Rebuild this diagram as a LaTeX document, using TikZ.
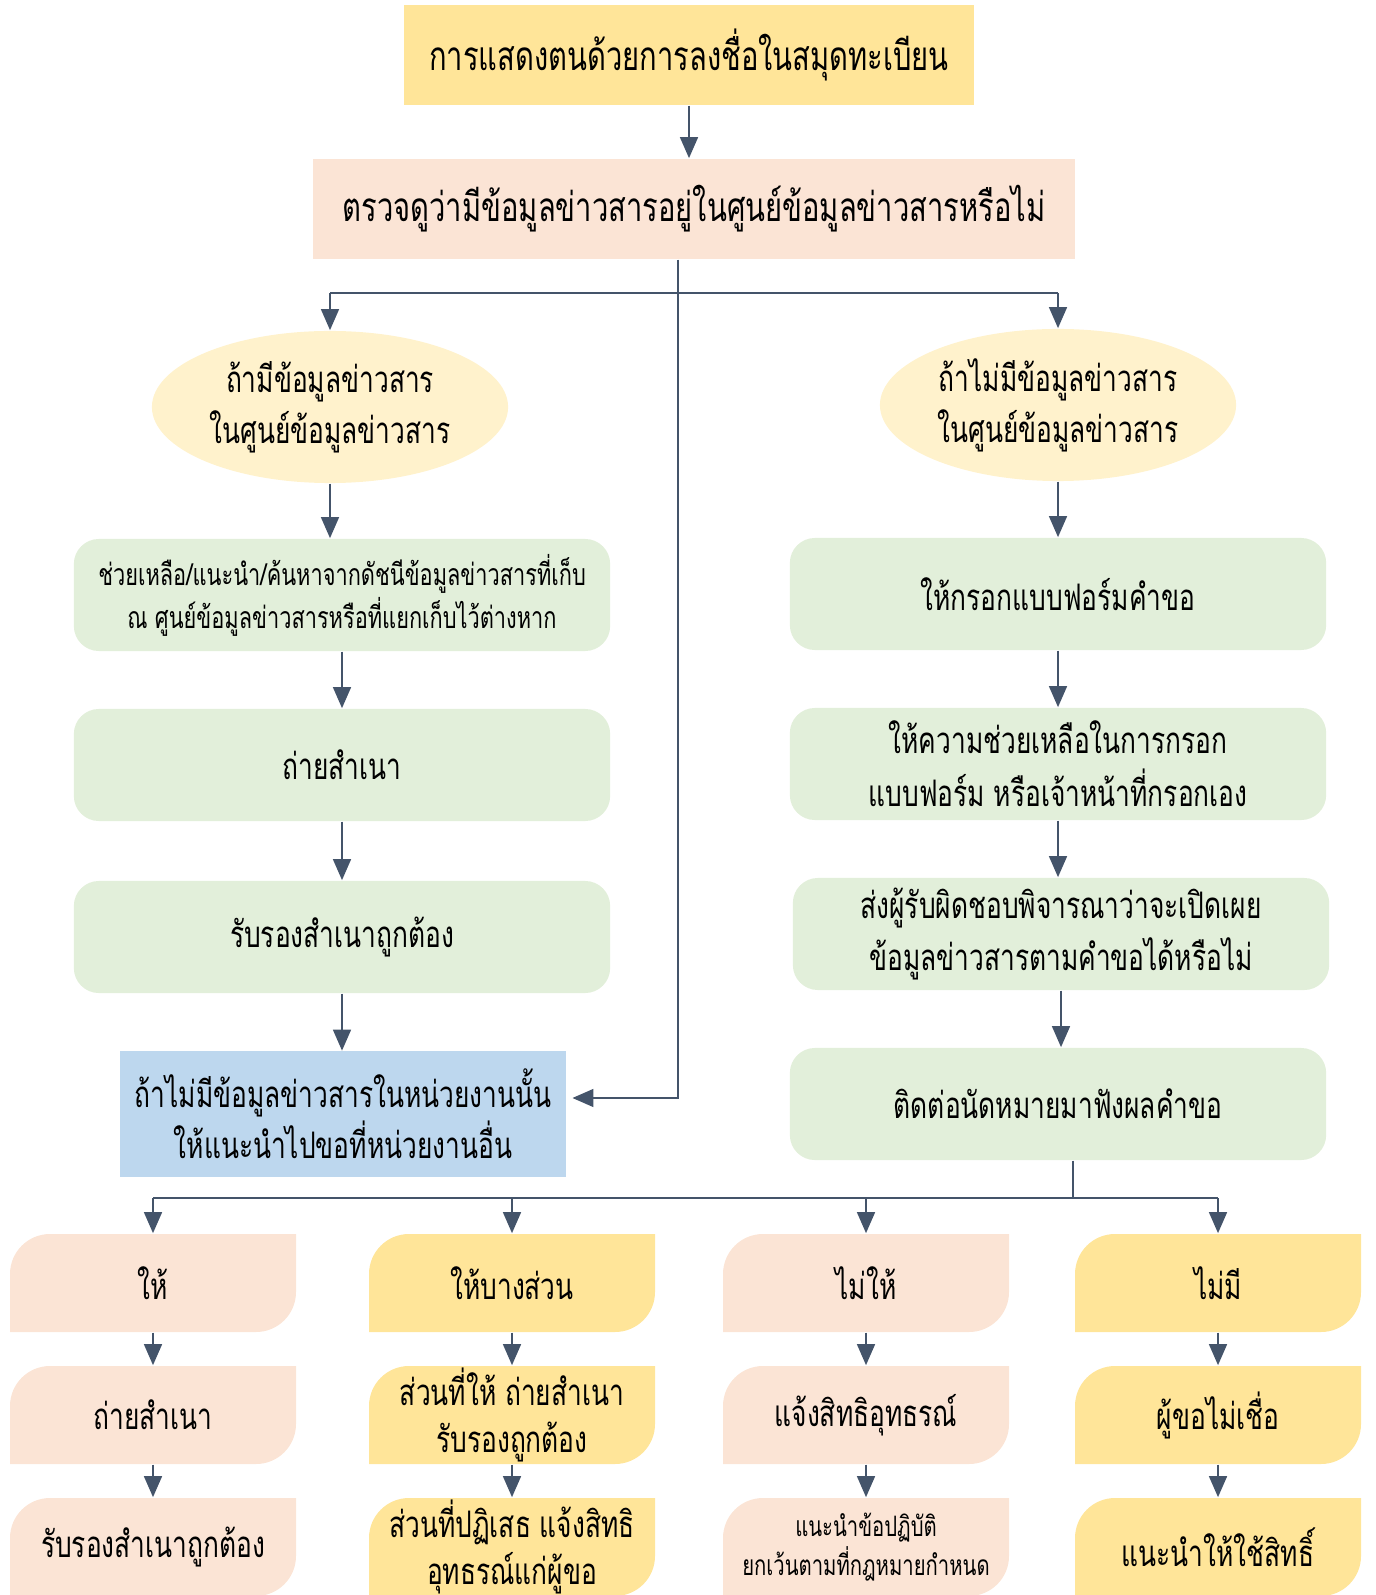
\documentclass[tikz,border=0pt]{standalone}
\usepackage{fontspec}
\newfontfamily\thaifont[Script=Thai,FakeStretch=0.72]{Loma}
\usetikzlibrary{arrows.meta}
\usetikzlibrary{shapes.geometric}
\definecolor{titleyellow}{HTML}{FFE599}
\definecolor{checkpeach}{HTML}{FBE4D5}
\definecolor{ovalyellow}{HTML}{FFF2CC}
\definecolor{stepgreen}{HTML}{E2EFDA}
\definecolor{otherblue}{HTML}{BDD7EE}
\definecolor{linkslate}{HTML}{44546A}
\tikzset{every node/.style={font=\thaifont\fontsize{10.4}{14.5}\selectfont,align=center,inner sep=0pt}}
\tikzset{bigtext/.style={font=\thaifont\fontsize{11.5}{14.5}\selectfont}}
\tikzset{linkline/.style={draw=linkslate,line width=0.8pt}}
\tikzset{link/.style={linkline,-{Triangle[length=6pt,width=5pt]}}}
\tikzset{oval/.style={ellipse,fill=ovalyellow,minimum width=3.56cm,minimum height=1.52cm}}
\tikzset{stepbox/.style={fill=stepgreen,rounded corners=0.25cm,minimum width=5.36cm,minimum height=1.12cm}}
\tikzset{leaf/.style={minimum width=2.85cm,minimum height=0.98cm,font=\thaifont\fontsize{10.4}{13.6}\selectfont}}
\newcommand{\leafbox}[6][]{%
  \fill[#5] ({#3-143},{#4+49}) -- ({#3-143},{#4-9}) arc[start angle=180,end angle=270,radius=40]
    -- ({#3+143},{#4-49}) -- ({#3+143},{#4+9}) arc[start angle=0,end angle=90,radius=40] -- cycle;
  \node[leaf,#1] (#2) at (#3,#4) {#6};}

\begin{document}
\begin{tikzpicture}[x=0.01cm,y=-0.01cm]
\useasboundingbox (0,0) rectangle (1375,1595);

\node[bigtext,fill=titleyellow,minimum width=5.70cm,minimum height=1.00cm] (title) at (689,55) {การแสดงตนด้วยการลงชื่อในสมุดทะเบียน};
\node[bigtext,fill=checkpeach,minimum width=7.61cm,minimum height=1.00cm] (check) at (694,209) {ตรวจดูว่ามีข้อมูลข่าวสารอยู่ในศูนย์ข้อมูลข่าวสารหรือไม่};

\node[oval] (ifyes) at (330,407) {ถ้ามีข้อมูลข่าวสาร\\ในศูนย์ข้อมูลข่าวสาร};
\node[oval] (ifno) at (1058,405) {ถ้าไม่มีข้อมูลข่าวสาร\\ในศูนย์ข้อมูลข่าวสาร};

\node[stepbox,font=\thaifont\fontsize{8.6}{12.2}\selectfont] (helpfind) at (342,595) {ช่วยเหลือ/แนะนำ/ค้นหาจากดัชนีข้อมูลข่าวสารที่เก็บ\\ณ ศูนย์ข้อมูลข่าวสารหรือที่แยกเก็บไว้ต่างหาก};
\node[stepbox] (copyA) at (342,765) {ถ่ายสำเนา};
\node[stepbox] (certA) at (342,937) {รับรองสำเนาถูกต้อง};
\node[fill=otherblue,minimum width=4.45cm,minimum height=1.25cm] (other) at (343,1114) {ถ้าไม่มีข้อมูลข่าวสารในหน่วยงานนั้น\\ให้แนะนำไปขอที่หน่วยงานอื่น};

\node[stepbox] (form) at (1058,594) {ให้กรอกแบบฟอร์มคำขอ};
\node[stepbox,font=\thaifont\fontsize{10.4}{15}\selectfont] (assist) at (1058,764) {ให้ความช่วยเหลือในการกรอก\\แบบฟอร์ม หรือเจ้าหน้าที่กรอกเอง};
\node[stepbox,font=\thaifont\fontsize{10.4}{15}\selectfont] (decide) at (1061,934) {ส่งผู้รับผิดชอบพิจารณาว่าจะเปิดเผย\\ข้อมูลข่าวสารตามคำขอได้หรือไม่};
\node[stepbox] (notify) at (1058,1104) {ติดต่อนัดหมายมาฟังผลคำขอ};

\leafbox{give}{153}{1283}{checkpeach}{ให้}
\leafbox{giveCopy}{153}{1415}{checkpeach}{ถ่ายสำเนา}
\leafbox{giveCert}{153}{1547}{checkpeach}{รับรองสำเนาถูกต้อง}
\leafbox{partial}{512}{1283}{titleyellow}{ให้บางส่วน}
\leafbox{partialGive}{512}{1415}{titleyellow}{ส่วนที่ให้ ถ่ายสำเนา\\รับรองถูกต้อง}
\leafbox{partialDeny}{512}{1547}{titleyellow}{ส่วนที่ปฏิเสธ แจ้งสิทธิ\\อุทธรณ์แก่ผู้ขอ}
\leafbox{refuse}{866}{1283}{checkpeach}{ไม่ให้}
\leafbox{refuseAppeal}{866}{1415}{checkpeach}{แจ้งสิทธิอุทธรณ์}
\leafbox[font=\thaifont\fontsize{8}{11}\selectfont]{refuseRule}{866}{1547}{checkpeach}{แนะนำข้อปฏิบัติ\\ยกเว้นตามที่กฎหมายกำหนด}
\leafbox{none}{1218}{1283}{titleyellow}{ไม่มี}
\leafbox{noneDoubt}{1218}{1415}{titleyellow}{ผู้ขอไม่เชื่อ}
\leafbox{noneRight}{1218}{1547}{titleyellow}{แนะนำให้ใช้สิทธิ์}

\coordinate (trunk) at (678,293);
\coordinate (fork) at (1073,1198);

\draw[link] (title.south) -- (title.south |- check.north);
\draw[linkline] (check.south -| trunk) -- (trunk);
\draw[linkline] (ifyes.north |- trunk) -- (ifno.north |- trunk);
\draw[link] (ifyes.north |- trunk) -- (ifyes.north);
\draw[link] (ifno.north |- trunk) -- (ifno.north);
\draw[link] (trunk) |- ([xshift=0.06cm,yshift=0.16cm]other.east);

\draw[link] (ifyes.south) -- (ifyes.south |- helpfind.north);
\draw[link] (helpfind.south) -- (copyA.north);
\draw[link] (copyA.south) -- (certA.north);
\draw[link] (certA.south) -- (certA.south |- other.north);

\draw[link] (ifno.south) -- (form.north);
\draw[link] (form.south) -- (assist.north);
\draw[link] (assist.south) -- (assist.south |- decide.north);
\draw[link] (decide.south) -- (decide.south |- notify.north);
\draw[linkline] (notify.south -| fork) -- (fork);
\draw[linkline] (give.north |- fork) -- (none.north |- fork);
\foreach \n in {give,partial,refuse,none}
  \draw[link] (\n.north |- fork) -- (\n.north);

\draw[link] (give.south) -- (giveCopy.north);
\draw[link] (giveCopy.south) -- (giveCert.north);
\draw[link] (partial.south) -- (partialGive.north);
\draw[link] (partialGive.south) -- (partialDeny.north);
\draw[link] (refuse.south) -- (refuseAppeal.north);
\draw[link] (refuseAppeal.south) -- (refuseRule.north);
\draw[link] (none.south) -- (noneDoubt.north);
\draw[link] (noneDoubt.south) -- (noneRight.north);
\end{tikzpicture}
\end{document}
